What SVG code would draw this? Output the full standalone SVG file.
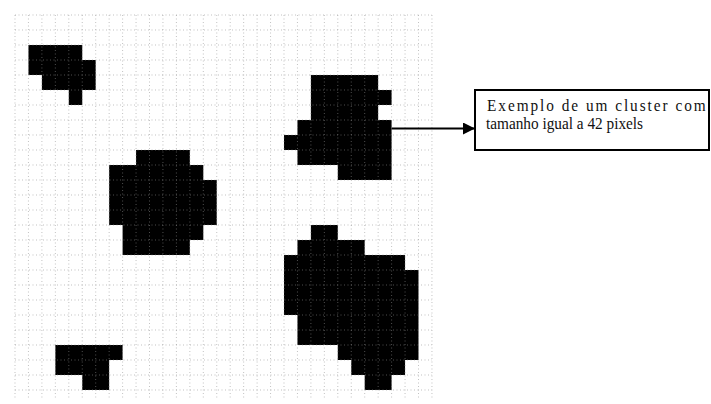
<svg xmlns="http://www.w3.org/2000/svg" width="711" height="404" viewBox="0 0 711 404">
  <style>
    .cell { fill: #000; }
    .grid { fill: none; stroke: #8f8f8f; stroke-width: 1; stroke-dasharray: 1 2.5; opacity: 0.55; }
    .link { stroke: #000; stroke-width: 2; fill: none; }
    .box { fill: #fff; stroke: #000; stroke-width: 2; }
    .label { font-family: "Liberation Serif", "Times New Roman", serif; font-size: 17px; fill: #111; }
  </style>
  <defs>
    <marker id="arrow" viewBox="0 0 12 12" refX="12" refY="6" markerWidth="12" markerHeight="12" markerUnits="userSpaceOnUse" orient="auto">
      <path d="M0,0 L12,6 L0,12 Z" fill="#000"/>
    </marker>
  </defs>
  <rect width="711" height="404" fill="#fff"/>

  <!-- pixel clusters: cell width 13.45, cell height 15, origin (15,15) -->
  <g id="cluster-a">
    <rect class="cell" x="28.45" y="45" width="53.8" height="15"/>
    <rect class="cell" x="28.45" y="60" width="67.25" height="15"/>
    <rect class="cell" x="41.9" y="75" width="53.8" height="15"/>
    <rect class="cell" x="68.8" y="90" width="13.45" height="15"/>
  </g>
  <g id="cluster-b">
    <rect class="cell" x="310.9" y="75" width="67.25" height="15"/>
    <rect class="cell" x="310.9" y="90" width="80.7" height="15"/>
    <rect class="cell" x="310.9" y="105" width="67.25" height="15"/>
    <rect class="cell" x="297.45" y="120" width="94.15" height="15"/>
    <rect class="cell" x="284" y="135" width="107.6" height="15"/>
    <rect class="cell" x="297.45" y="150" width="94.15" height="15"/>
    <rect class="cell" x="337.8" y="165" width="53.8" height="15"/>
  </g>
  <g id="cluster-c">
    <rect class="cell" x="136.05" y="150" width="53.8" height="15"/>
    <rect class="cell" x="109.15" y="165" width="94.15" height="15"/>
    <rect class="cell" x="109.15" y="180" width="107.6" height="45"/>
    <rect class="cell" x="122.6" y="225" width="80.7" height="15"/>
    <rect class="cell" x="122.6" y="240" width="67.25" height="15"/>
  </g>
  <g id="cluster-d">
    <rect class="cell" x="310.9" y="225" width="26.9" height="15"/>
    <rect class="cell" x="297.45" y="240" width="67.25" height="15"/>
    <rect class="cell" x="284" y="255" width="121.05" height="15"/>
    <rect class="cell" x="284" y="270" width="134.5" height="45"/>
    <rect class="cell" x="297.45" y="315" width="121.05" height="30"/>
    <rect class="cell" x="337.8" y="345" width="80.7" height="15"/>
    <rect class="cell" x="351.25" y="360" width="53.8" height="15"/>
    <rect class="cell" x="364.7" y="375" width="26.9" height="15"/>
  </g>
  <g id="cluster-e">
    <rect class="cell" x="55.35" y="345" width="67.25" height="15"/>
    <rect class="cell" x="55.35" y="360" width="53.8" height="15"/>
    <rect class="cell" x="82.25" y="375" width="26.9" height="15"/>
  </g>

  <!-- dotted pixel grid -->
  <g id="grid">
    <path class="grid" d="M15 15V400M28.45 15V400M41.9 15V400M55.35 15V400M68.8 15V400M82.25 15V400M95.7 15V400M109.15 15V400M122.6 15V400M136.05 15V400M149.5 15V400M162.95 15V400M176.4 15V400M189.85 15V400M203.3 15V400M216.75 15V400M230.2 15V400M243.65 15V400M257.1 15V400M270.55 15V400M284 15V400M297.45 15V400M310.9 15V400M324.35 15V400M337.8 15V400M351.25 15V400M364.7 15V400M378.15 15V400M391.6 15V400M405.05 15V400M418.5 15V400M431.95 15V400"/>
    <path class="grid" d="M15 15H432M15 30H432M15 45H432M15 60H432M15 75H432M15 90H432M15 105H432M15 120H432M15 135H432M15 150H432M15 165H432M15 180H432M15 195H432M15 210H432M15 225H432M15 240H432M15 255H432M15 270H432M15 285H432M15 300H432M15 315H432M15 330H432M15 345H432M15 360H432M15 375H432M15 390H432"/>
  </g>

  <!-- connector -->
  <g id="connectors">
    <line class="link" x1="391.6" y1="128.5" x2="475" y2="128.5" marker-end="url(#arrow)"/>
  </g>

  <!-- callout; the serif face is narrowed horizontally -->
  <g id="callout">
    <rect class="box" x="475" y="90" width="234" height="60"/>
    <text class="label" transform="translate(487 111) scale(0.9 1)" x="0" y="0" textLength="243" lengthAdjust="spacing">Exemplo de um cluster com</text>
    <text class="label" transform="translate(486 129) scale(0.9 1)" x="0" y="0">tamanho igual a 42 pixels</text>
  </g>
</svg>
